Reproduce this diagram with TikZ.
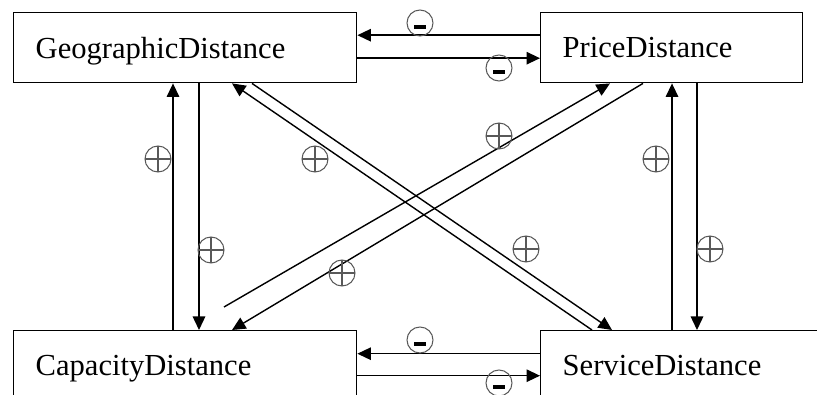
\documentclass[tikz,border=0pt]{standalone}
\usepackage{fontspec}
\setmainfont{Liberation Serif}
\usetikzlibrary{arrows.meta}

\begin{document}
\begin{tikzpicture}[
  every node/.style={font=\fontsize{17.4}{20}\selectfont},
  box/.style={draw, line width=0.8pt, anchor=north west, minimum height=1.4cm,
    inner xsep=0.44cm, inner ysep=0pt, text depth=0pt, align=left},
  link/.style={-{Triangle[length=0.27cm, width=0.25cm]}, line width=0.8pt},
  sign/.style={circle, draw=black!65, line width=0.6pt, minimum size=0.52cm, inner sep=0pt},
  plus/.style={sign, path picture={
    \draw[black!65, line width=0.6pt] (path picture bounding box.west) -- (path picture bounding box.east)
      (path picture bounding box.north) -- (path picture bounding box.south);}},
  minus/.style={sign, path picture={
    \fill ([xshift=-0.12cm, yshift=-0.125cm]path picture bounding box.center)
      rectangle ([xshift=0.12cm, yshift=-0.045cm]path picture bounding box.center);}}
]
  \clip (0,0) rectangle (16.34,7.88);

  % Boxes
  \node[box, text width=5.98cm] (geo) at (0.26,7.64) {GeographicDistance};
  \node[box, text width=4.36cm] (price) at (10.8,7.64) {PriceDistance};
  \node[box, text width=5.98cm] (cap) at (0.26,1.28) {CapacityDistance};
  \node[box, text width=5.12cm] (serv) at (10.8,1.28) {ServiceDistance};

  % Horizontal links
  \draw[link] ([yshift=0.25cm]price.west) -- ([yshift=0.25cm]geo.east);
  \draw[link] ([yshift=-0.21cm]geo.east) -- ([yshift=-0.21cm]price.west);
  \draw[link] ([yshift=0.24cm]serv.west) -- ([yshift=0.24cm]cap.east);
  \draw[link] ([yshift=-0.2cm]cap.east) -- ([yshift=-0.2cm]serv.west);

  % Vertical links
  \draw[link] ([xshift=3.2cm]cap.north west) -- ([xshift=3.2cm]geo.south west);
  \draw[link] ([xshift=3.72cm]geo.south west) -- ([xshift=3.72cm]cap.north west);
  \draw[link] ([xshift=2.64cm]serv.north west) -- ([xshift=2.64cm]price.south west);
  \draw[link] ([xshift=3.14cm]price.south west) -- ([xshift=3.14cm]serv.north west);

  % Diagonal links
  \draw[link] ([xshift=1.04cm]serv.north west) -- ([xshift=4.38cm]geo.south west);
  \draw[link] ([xshift=4.78cm]geo.south west) -- ([xshift=1.44cm]serv.north west);
  \draw[link] ([xshift=2.06cm]price.south west) -- ([xshift=4.38cm]cap.north west);
  \coordinate (capfree) at ([xshift=4.22cm, yshift=0.46cm]cap.north west);
  \draw[link] (capfree) -- ([xshift=1.4cm]price.south west);

  % Signs
  \node[minus] (s1) at (8.40,7.42) {};
  \node[minus] (s2) at (9.98,6.52) {};
  \node[plus] (s3) at (3.16,4.70) {};
  \node[plus] (s4) at (4.22,2.88) {};
  \node[plus] (s5) at (6.30,4.70) {};
  \node[plus] (s6) at (10.52,2.90) {};
  \node[plus] (s7) at (9.98,5.16) {};
  \node[plus] (s8) at (6.84,2.42) {};
  \node[plus] (s9) at (13.12,4.70) {};
  \node[plus] (s10) at (14.20,2.90) {};
  \node[minus] (s11) at (8.40,1.08) {};
  \node[minus] (s12) at (9.98,0.22) {};
\end{tikzpicture}
\end{document}
